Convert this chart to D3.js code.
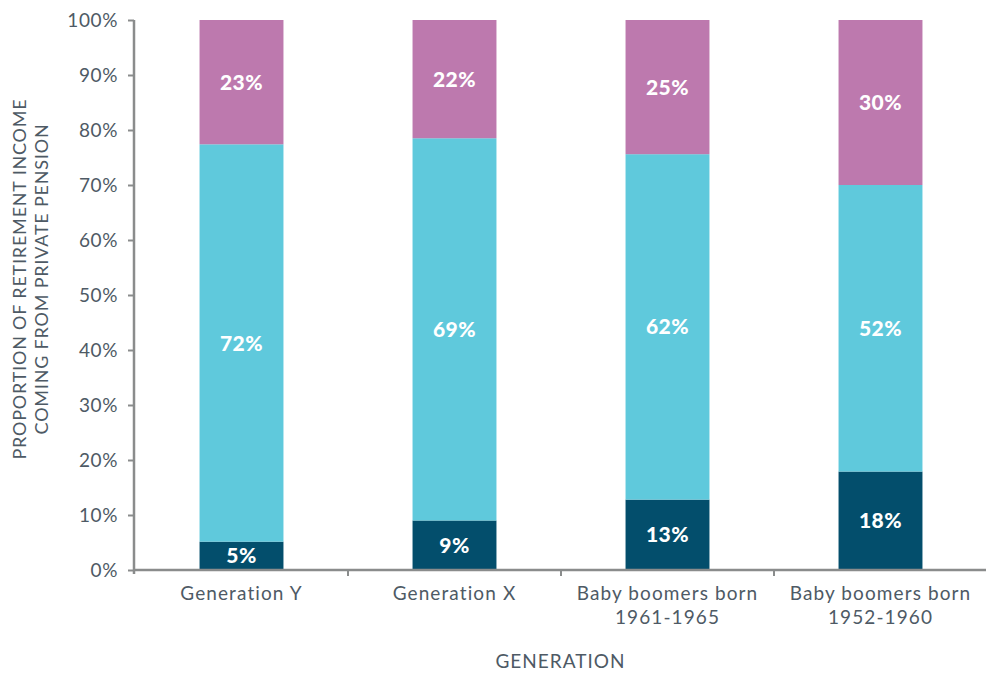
<!DOCTYPE html>
<html><head><meta charset="utf-8">
<script src="https://cdn.jsdelivr.net/npm/d3@7/dist/d3.min.js"></script>
<style>body{margin:0;background:#fff;}svg{display:block;font-family:Lato,"Open Sans",sans-serif;}</style>
</head><body><svg id="c" width="986" height="675"></svg>
<script>
const categories = [["Generation Y"],["Generation X"],["Baby boomers born","1961-1965"],["Baby boomers born","1952-1960"]];
const seriesNames = ["Bottom","Middle","Top"];
// segment heights
const bottomValues = [5.15, 9.0, 12.8, 17.9];
const middleValues = [72.25, 69.5, 62.8, 52.1];
const topValues = [22.6, 21.5, 24.4, 30.0];
// labels as printed on the bars
const bottomLabels = ["5%", "9%", "13%", "18%"];
const middleLabels = ["72%", "69%", "62%", "52%"];
const topLabels = ["23%", "22%", "25%", "30%"];
const yTicks = [0,10,20,30,40,50,60,70,80,90,100];
const colors = ["#034e6c", "#5fc9dc", "#bd79ae"];

(function(){
const svg = d3.select("#c");
const mLeft = 135, mRight = 987, mTop = 20, mBottom = 570;
const keys = categories.map(c => c.join(" "));
const x = d3.scaleBand().domain(keys).range([mLeft, mRight]).paddingInner(0.606).paddingOuter(0.303);
const y = d3.scaleLinear().domain([0, 100]).range([mBottom, mTop]);
const rows = keys.map((k, i) => ({key: k, idx: i, Bottom: bottomValues[i], Middle: middleValues[i], Top: topValues[i]}));
const stack = d3.stack().keys(seriesNames)(rows);
const labelSets = [bottomLabels, middleLabels, topLabels];

const textColor = "#4e5a65", axisColor = "#8a8c8c";

stack.forEach((s, si) => {
  svg.append("g").selectAll("rect").data(s).join("rect")
    .attr("x", d => x(d.data.key)).attr("width", x.bandwidth())
    .attr("y", d => y(d[1])).attr("height", d => y(d[0]) - y(d[1]))
    .attr("fill", colors[si]);
  svg.append("g").selectAll("text").data(s).join("text")
    .attr("x", d => x(d.data.key) + x.bandwidth()/2)
    .attr("y", d => (y(d[0]) + y(d[1]))/2)
    .attr("dy", "0.36em").attr("text-anchor", "middle")
    .attr("fill", "#fff").attr("font-weight", 900).attr("font-size", 21).attr("letter-spacing", 0.5)
    .text(d => labelSets[si][d.data.idx]);
});

const ya = svg.append("g").attr("transform", `translate(${mLeft-1},0)`)
  .call(d3.axisLeft(y).tickValues(yTicks).tickFormat(d => d + "%").tickSize(6).tickPadding(10));
ya.select(".domain").attr("stroke", axisColor).attr("stroke-width", 2.5).attr("d", `M0,${mTop}V${mBottom+4}`);
ya.selectAll(".tick line").attr("stroke", axisColor).attr("stroke-width", 2);
ya.selectAll(".tick text").attr("fill", textColor).attr("font-size", 19).attr("letter-spacing", 0.6)
  .attr("font-family", "Lato, sans-serif");

const xa = svg.append("g").attr("transform", `translate(0,${mBottom})`);
xa.append("line").attr("x1", mLeft-1).attr("x2", 986).attr("y1", 0).attr("y2", 0).attr("stroke", axisColor).attr("stroke-width", 2.5);
const bounds = keys.slice(1).map(k => x(k) - x.step()*x.paddingInner()/2);
xa.selectAll("line.b").data(bounds).join("line").attr("class","b")
  .attr("x1", d => d).attr("x2", d => d).attr("y1", 0).attr("y2", 6).attr("stroke", axisColor).attr("stroke-width", 2);
categories.forEach((c, i) => {
  const cx = x(keys[i]) + x.bandwidth()/2;
  const t = xa.append("text").attr("x", cx).attr("y", 30)
    .attr("text-anchor", "middle").attr("fill", textColor).attr("font-size", 19).attr("letter-spacing", 1.1);
  c.forEach((line, j) => t.append("tspan").attr("x", cx).attr("dy", j ? 24 : 0).text(line));
});

svg.append("text").attr("x", (mLeft + 986)/2).attr("y", 668).attr("text-anchor", "middle")
  .attr("fill", textColor).attr("font-size", 19).attr("letter-spacing", 1).text("GENERATION");

const yt = svg.append("text").attr("transform", `translate(26,${(mTop+mBottom)/2-16}) rotate(-90)`)
  .attr("text-anchor", "middle").attr("fill", textColor).attr("font-size", 18).attr("letter-spacing", 0.8);
yt.append("tspan").attr("x", 0).attr("dy", 0).text("PROPORTION OF RETIREMENT INCOME");
yt.append("tspan").attr("x", 0).attr("dy", 22).text("COMING FROM PRIVATE PENSION");
})();
</script></body></html>
